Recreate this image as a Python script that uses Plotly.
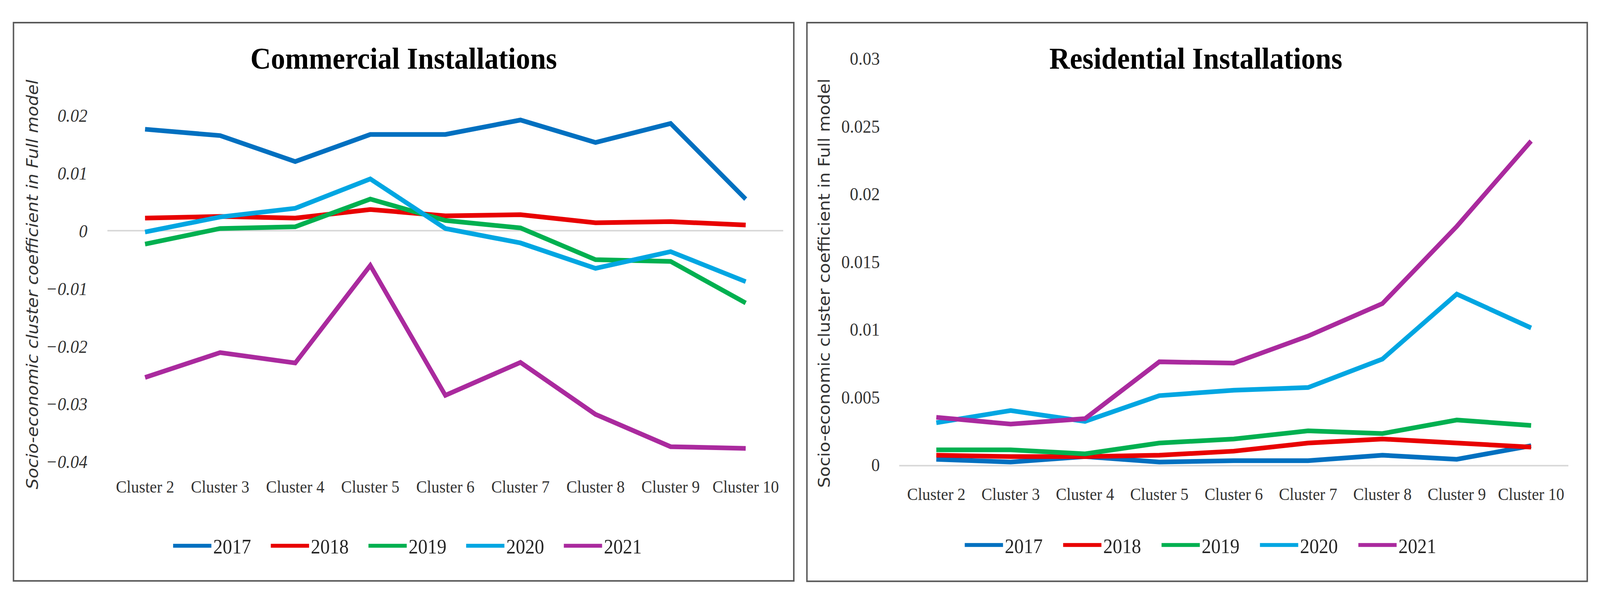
import plotly.graph_objects as go

# ---------------- data ----------------
clusters = ["Cluster 2", "Cluster 3", "Cluster 4", "Cluster 5", "Cluster 6",
            "Cluster 7", "Cluster 8", "Cluster 9", "Cluster 10"]
years = ["2017", "2018", "2019", "2020", "2021"]

commercial_2017 = [0.0176, 0.0165, 0.0120, 0.0167, 0.0167, 0.0192, 0.0153, 0.0186, 0.0055]
commercial_2018 = [0.0022, 0.0025, 0.0022, 0.0037, 0.0026, 0.0028, 0.0014, 0.0016, 0.0010]
commercial_2019 = [-0.0023, 0.0004, 0.0007, 0.0055, 0.0018, 0.0005, -0.0050, -0.0053, -0.0125]
commercial_2020 = [-0.0002, 0.0024, 0.0039, 0.0090, 0.0004, -0.0021, -0.0065, -0.0036, -0.0088]
commercial_2021 = [-0.0254, -0.0211, -0.0229, -0.0060, -0.0285, -0.0228, -0.0318, -0.0374, -0.0377]

residential_2017 = [0.0004, 0.0002, 0.0006, 0.0002, 0.0003, 0.0003, 0.0007, 0.0004, 0.0014]
residential_2018 = [0.0007, 0.0006, 0.0006, 0.0007, 0.0010, 0.0016, 0.0019, 0.0016, 0.0013]
residential_2019 = [0.0011, 0.0011, 0.0008, 0.0016, 0.0019, 0.0025, 0.0023, 0.0033, 0.0029]
residential_2020 = [0.0031, 0.0040, 0.0032, 0.0051, 0.0055, 0.0057, 0.0078, 0.0126, 0.0101]
residential_2021 = [0.0035, 0.0030, 0.0034, 0.0076, 0.0075, 0.0095, 0.0119, 0.0176, 0.0239]

commercial = [commercial_2017, commercial_2018, commercial_2019, commercial_2020, commercial_2021]
residential = [residential_2017, residential_2018, residential_2019, residential_2020, residential_2021]

colors = ["#0070C0", "#E80000", "#00B050", "#00A6E2", "#AA2A9E"]

panel_titles = ["Commercial Installations", "Residential Installations"]
y_title = "Socio-economic cluster coefficient in Full model"

# ---------------- figure ----------------
W, H = 4390, 1550
fig = go.Figure()

for i, yr in enumerate(years):
    fig.add_trace(go.Scatter(
        x=clusters, y=commercial[i], name=yr, mode="lines",
        line=dict(color=colors[i], width=12),
        xaxis="x", yaxis="y", legend="legend", hoverinfo="skip"))
for i, yr in enumerate(years):
    fig.add_trace(go.Scatter(
        x=clusters, y=residential[i], name=yr, mode="lines",
        line=dict(color=colors[i], width=12),
        xaxis="x2", yaxis="y2", legend="legend2", hoverinfo="skip"))

serif = "Liberation Serif"
tick_color = "#333333"


def px_x(p):
    return p / W


def px_y(p):
    return 1 - p / H


legend_common = dict(orientation="h", xanchor="left", yanchor="middle",
                     font=dict(family=serif, size=52, color="#262626"),
                     itemwidth=105, entrywidthmode="pixels",
                     bgcolor="rgba(0,0,0,0)", traceorder="normal")

fig.update_layout(
    width=W, height=H,
    margin=dict(l=0, r=0, t=0, b=0, pad=0),
    paper_bgcolor="white", plot_bgcolor="white",
    xaxis=dict(domain=[px_x(295), px_x(2149)], type="category",
               range=[-0.5, 8.5], showgrid=False, zeroline=False, showline=False,
               ticks="", ticklabelstandoff=34,
               tickfont=dict(family=serif, size=44, color=tick_color),
               anchor="y"),
    yaxis=dict(domain=[px_y(1197), px_y(279)], range=[-0.04, 0.02],
               tickvals=[-0.04, -0.03, -0.02, -0.01, 0, 0.01, 0.02],
               showgrid=False, zeroline=True, zerolinecolor="#D9D9D9",
               zerolinewidth=4, showline=False, ticks="", ticklabelstandoff=54,
               tickfont=dict(family=serif, size=47, color=tick_color, style="italic"),
               anchor="x"),
    xaxis2=dict(domain=[px_x(2467), px_x(4303)], type="category",
                range=[-0.5, 8.5], showgrid=False, zeroline=False,
                showline=True, linecolor="#D9D9D9", linewidth=4,
                ticks="", ticklabelstandoff=34,
                tickfont=dict(family=serif, size=44, color=tick_color),
                anchor="y2"),
    yaxis2=dict(domain=[px_y(1205), px_y(128)], range=[0, 0.03], dtick=0.005,
                showgrid=False, zeroline=False, showline=False, ticks="",
                ticklabelstandoff=52,
                tickfont=dict(family=serif, size=47, color=tick_color),
                anchor="x2"),
    legend=dict(legend_common, x=px_x(470), y=px_y(1420), entrywidth=148),
    legend2=dict(legend_common, x=px_x(2642), y=px_y(1418), entrywidth=150),
    showlegend=True,
)

# panel borders
for (x0, x1, y0, y1) in [(37, 2178, 33, 1513), (2214, 4355, 33, 1514)]:
    fig.add_shape(type="rect", xref="paper", yref="paper",
                  x0=px_x(x0), x1=px_x(x1), y0=px_y(y1), y1=px_y(y0),
                  line=dict(color="#595959", width=4), fillcolor="rgba(0,0,0,0)",
                  layer="below")

# titles
for t, cx in zip(panel_titles, [1107, 3281]):
    fig.add_annotation(text=t, xref="paper", yref="paper", x=px_x(cx), y=px_y(128),
                       xanchor="center", yanchor="middle", showarrow=False,
                       font=dict(family=serif, size=78, color="black", weight="bold"))

# y-axis titles
fig.add_annotation(text=y_title, xref="paper", yref="paper", x=px_x(89), y=px_y(727),
                   xanchor="center", yanchor="middle", showarrow=False, textangle=-90,
                   font=dict(family="DejaVu Sans", size=44, color="#333333", style="italic"))
fig.add_annotation(text=y_title, xref="paper", yref="paper", x=px_x(2261), y=px_y(724),
                   xanchor="center", yanchor="middle", showarrow=False, textangle=-90,
                   font=dict(family="DejaVu Sans", size=44, color="#333333"))

# fit the 4390x1550 figure into whatever viewport the browser actually has
fit_script = """
var gd = document.getElementById('{plot_id}');
document.documentElement.style.margin = '0';
document.body.style.margin = '0';
document.body.style.overflow = 'hidden';
var sx = window.innerWidth / %d, sy = window.innerHeight / %d;
gd.style.transformOrigin = '0 0';
gd.style.transform = 'scale(' + sx + ',' + sy + ')';
""" % (W, H)

fig.write_html("out.html", default_width="%dpx" % W, default_height="%dpx" % H,
               config={"displayModeBar": False}, post_script=fit_script)
